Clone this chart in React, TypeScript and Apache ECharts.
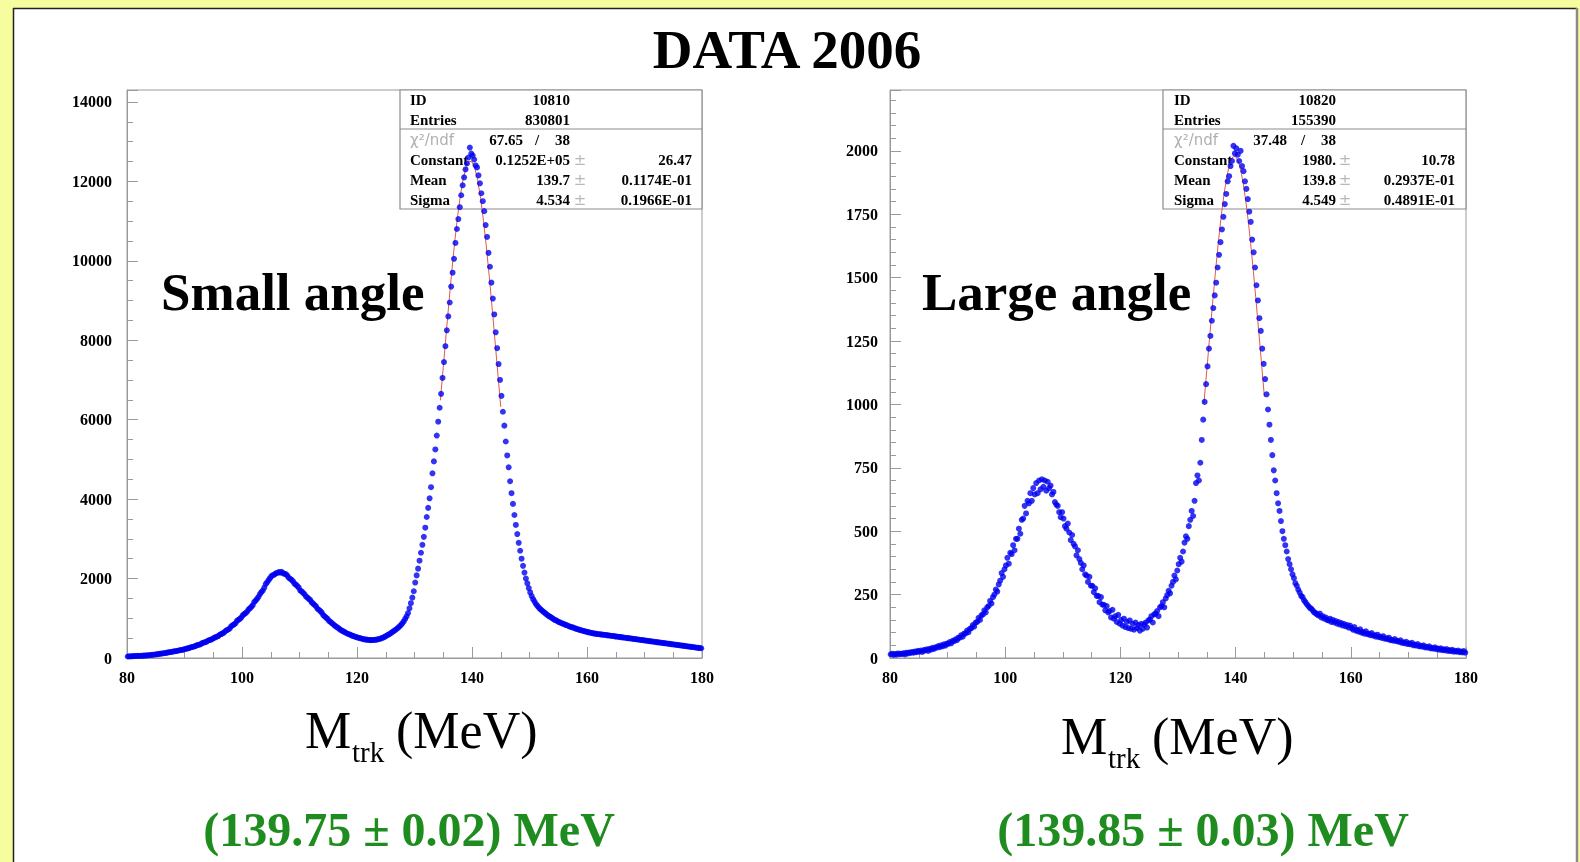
import React, { useEffect, useRef } from "react";
import * as echarts from "echarts";

// Histogram binning (MeV)
const BIN_START = 80;
const BIN_WIDTH = 0.25;

// Small angle: counts per 0.25 MeV bin, 80 -> 180 MeV (4 bins per row = 1 MeV)
const smallAngleCounts = [
  38, 42, 40, 45, 47, 50, 49, 53, 52, 56, 55, 60, 62, 64, 67, 70, 75, 79, 82, 88,
  95, 98, 104, 108, 115, 119, 125, 131, 140, 146, 150, 157, 165, 171, 176, 184, 195, 200, 207, 214,
  228, 236, 244, 255, 270, 279, 288, 300, 318, 328, 339, 352, 380, 389, 402, 414, 440, 452, 465, 480,
  508, 521, 537, 553, 585, 602, 620, 641, 680, 702, 718, 745, 800, 824, 846, 875, 935, 962, 985, 1020,
  1075, 1105, 1128, 1165, 1220, 1250, 1285, 1330, 1410, 1445, 1490, 1540, 1610, 1660, 1700, 1770, 1860, 1905, 1960, 2010,
  2060, 2085, 2100, 2130, 2140, 2165, 2150, 2170, 2135, 2120, 2110, 2075, 2020, 1995, 1965, 1930, 1870, 1845, 1810, 1770,
  1700, 1675, 1640, 1605, 1550, 1520, 1490, 1455, 1400, 1370, 1335, 1300, 1240, 1215, 1180, 1140, 1080, 1050, 1015, 985,
  935, 910, 880, 850, 815, 790, 765, 740, 710, 690, 670, 650, 630, 610, 598, 582, 565, 552, 540, 528,
  515, 505, 495, 485, 475, 468, 462, 458, 455, 450, 452, 454, 458, 462, 470, 478, 490, 505, 520, 538,
  560, 580, 600, 625, 650, 675, 700, 730, 760, 790, 830, 870, 920, 985, 1050, 1130, 1250, 1380, 1520, 1680,
  1900, 2080, 2250, 2450, 2650, 2850, 3050, 3280, 3550, 3780, 4020, 4300, 4650, 4950, 5250, 5600, 5950, 6300, 6650, 7050,
  7450, 7850, 8250, 8600, 8950, 9350, 9700, 10050, 10450, 10800, 11050, 11350, 11650, 11900, 12100, 12300, 12450, 12600, 12850, 12700,
  12650, 12550, 12400, 12350, 12150, 11950, 11700, 11500, 11250, 10900, 10600, 10200, 9850, 9450, 9050, 8650, 8200, 7800, 7400, 7000,
  6600, 6200, 5850, 5450, 5100, 4800, 4450, 4150, 3880, 3600, 3350, 3120, 2900, 2700, 2500, 2320, 2150, 2000, 1880, 1760,
  1650, 1560, 1480, 1420, 1360, 1310, 1270, 1230, 1200, 1170, 1140, 1110, 1080, 1055, 1035, 1010, 985, 960, 945, 925,
  905, 890, 875, 860, 845, 830, 818, 800, 785, 775, 765, 750, 735, 725, 712, 700, 692, 682, 672, 662,
  652, 645, 636, 628, 620, 615, 608, 602, 598, 594, 588, 585, 580, 576, 570, 566, 560, 556, 552, 545,
  540, 536, 531, 525, 520, 516, 510, 505, 500, 495, 492, 486, 480, 476, 470, 466, 460, 455, 451, 445,
  440, 436, 430, 425, 420, 416, 410, 405, 400, 394, 390, 385, 380, 375, 370, 365, 360, 355, 350, 345,
  340, 335, 330, 325, 320, 316, 310, 305, 300, 295, 290, 285, 280, 276, 270, 265, 260, 255, 250, 245,
];

// Large angle: counts per 0.25 MeV bin, 80 -> 180 MeV
const largeAngleCounts = [
  14, 17, 12, 16, 13, 18, 15, 17, 16, 19, 14, 21, 18, 22, 20, 24, 21, 26, 23, 28,
  25, 29, 24, 31, 30, 34, 28, 36, 33, 40, 36, 42, 41, 47, 43, 50, 46, 54, 49, 57,
  56, 63, 58, 68, 66, 74, 70, 80, 80, 90, 84, 96, 97, 108, 102, 115, 118, 130, 124, 140,
  142, 158, 150, 168, 172, 188, 180, 200, 205, 225, 215, 240, 250, 270, 262, 290, 305, 335, 320, 350,
  365, 395, 372, 415, 410, 445, 425, 470, 470, 510, 490, 545, 550, 600, 570, 620, 610, 650, 620, 670,
  645, 690, 650, 700, 665, 705, 675, 700, 660, 695, 670, 680, 645, 655, 615, 605, 600, 575, 555, 575,
  550, 520, 510, 530, 495, 465, 485, 450, 440, 405, 425, 390, 375, 350, 365, 330, 325, 300, 320, 285,
  285, 260, 275, 245, 245, 220, 240, 210, 210, 188, 205, 180, 185, 160, 190, 155, 165, 142, 170, 135,
  150, 128, 155, 122, 142, 118, 148, 115, 135, 112, 140, 118, 130, 108, 135, 115, 132, 140, 120, 148,
  152, 165, 140, 172, 175, 185, 165, 200, 205, 220, 200, 235, 248, 265, 255, 285, 300, 325, 310, 345,
  370, 395, 380, 420, 455, 480, 470, 520, 545, 580, 560, 620, 690, 720, 700, 770, 860, 940, 1010, 1080,
  1150, 1220, 1270, 1330, 1380, 1430, 1480, 1540, 1590, 1640, 1690, 1740, 1790, 1830, 1880, 1900, 1940, 1960, 2020, 1990,
  2010, 1985, 1960, 2000, 1940, 1920, 1880, 1850, 1810, 1760, 1720, 1650, 1600, 1540, 1470, 1410, 1340, 1290, 1220, 1160,
  1100, 1040, 980, 920, 860, 800, 740, 700, 650, 610, 580, 540, 500, 470, 445, 420, 390, 370, 350, 330,
  315, 295, 285, 270, 258, 245, 240, 228, 220, 212, 205, 198, 195, 188, 180, 178, 172, 168, 175, 160,
  165, 155, 160, 150, 148, 155, 142, 150, 140, 146, 135, 142, 132, 138, 128, 134, 125, 130, 120, 128,
  118, 112, 122, 108, 110, 104, 113, 100, 102, 96, 105, 94, 96, 90, 98, 88, 90, 84, 92, 82,
  84, 79, 86, 76, 78, 74, 80, 70, 72, 68, 75, 66, 68, 63, 70, 60, 62, 58, 64, 55,
  58, 54, 60, 50, 53, 49, 55, 46, 48, 45, 50, 42, 44, 41, 46, 38, 40, 37, 42, 35,
  37, 33, 38, 31, 34, 30, 35, 28, 31, 27, 32, 25, 28, 25, 29, 23, 26, 22, 27, 21,
];

// Gaussian fit curves (red line), read at 0.5 MeV steps
const fitMass = [134.5, 135, 135.5, 136, 136.5, 137, 137.5, 138, 138.5, 139, 139.5, 140, 140.5, 141, 141.5, 142, 142.5, 143, 143.5, 144, 144.5, 145];
const smallAngleFit = [6486, 7315, 8152, 8974, 9759, 10486, 11130, 11670, 12089, 12372, 12508, 12492, 12327, 12015, 11571, 11009, 10347, 9607, 8811, 7985, 7149, 6322];
const largeAngleFit = [1004, 1135, 1267, 1397, 1522, 1638, 1742, 1831, 1901, 1950, 1976, 1978, 1957, 1912, 1847, 1762, 1660, 1546, 1422, 1293, 1161, 1030];

// Statistics boxes
const smallStats = { id: "10810", entries: "830801", chi2: "67.65", ndf: "38", constant: ["0.1252E+05", "26.47"], mean: ["139.7", "0.1174E-01"], sigma: ["4.534", "0.1966E-01"] };
const largeStats = { id: "10820", entries: "155390", chi2: "37.48", ndf: "38", constant: ["1980.", "10.78"], mean: ["139.8", "0.2937E-01"], sigma: ["4.549", "0.4891E-01"] };

const SERIF = '"Liberation Serif", "Times New Roman", serif';
const AXIS_GRAY = "#9a9a9a";

function txt(text: string, x: number, y: number, font: string, fill = "#000", align = "left", z = 1) {
  return {
    type: "text",
    z,
    silent: true,
    style: { text, x, y, font, fill, textAlign: align, textVerticalAlign: "middle" },
  };
}

function statsBox(s: any, left: number, right: number, labelX: number, col1R: number, pmX: number, col2R: number, chiR: number, slashX: number) {
  const f = `bold 15px ${SERIF}`;
  const light = '15px "DejaVu Sans", sans-serif';
  const els: any[] = [
    { type: "rect", z: 0, silent: true, shape: { x: left, y: 90, width: right - left, height: 119 }, style: { fill: "#fff", stroke: "#8c8c8c", lineWidth: 1.2 } },
    { type: "line", z: 0, silent: true, shape: { x1: left, y1: 129, x2: right, y2: 129 }, style: { stroke: "#8c8c8c", lineWidth: 1.2 } },
    txt("ID", labelX, 100, f),
    txt(s.id, col1R, 100, f, "#000", "right"),
    txt("Entries", labelX, 120, f),
    txt(s.entries, col1R, 120, f, "#000", "right"),
    txt("χ²/ndf", labelX, 140, '15px "DejaVu Sans", sans-serif', "#b0b0b0"),
    txt(s.chi2, chiR, 140, f, "#000", "right"),
    txt("/", slashX, 140, f, "#000", "center"),
    txt(s.ndf, col1R, 140, f, "#000", "right"),
  ];
  const rows: [string, string[], number][] = [["Constant", s.constant, 160], ["Mean", s.mean, 180], ["Sigma", s.sigma, 200]];
  rows.forEach(([lab, v, y]) => {
    els.push(txt(lab, labelX, y, f));
    els.push(txt(v[0], col1R, y, f, "#000", "right"));
    els.push(txt("±", pmX, y, light, "#b8b8b8", "center"));
    els.push(txt(v[1], col2R, y, f, "#000", "right"));
  });
  return els;
}

function axisCommon(min: number, max: number, interval: number, minorSplit: number, margin: number) {
  return {
    type: "value",
    min,
    max,
    interval,
    axisLine: { show: true, lineStyle: { color: AXIS_GRAY, width: 1 } },
    axisTick: { show: true, inside: true, length: 11, lineStyle: { color: AXIS_GRAY, width: 1 } },
    minorTick: { show: true, splitNumber: minorSplit, length: 6, lineStyle: { color: AXIS_GRAY, width: 1 } },
    splitLine: { show: false },
    minorSplitLine: { show: false },
    axisLabel: {
      margin, color: "#000", fontFamily: SERIF, fontWeight: "bold", fontSize: 16, showMaxLabel: false,
      formatter: (v: number) => String(v),
    },
  };
}

function histData(counts: number[]) {
  return counts.map((c, i) => [BIN_START + BIN_WIDTH * (i + 0.5), c]);
}

export default function App() {
  const ref = useRef<HTMLDivElement>(null);
  useEffect(() => {
    if (!ref.current) return;
    const chart = echarts.init(ref.current, null, { renderer: "svg" });
    const xLeft: any = axisCommon(80, 180, 20, 4, 11);
    xLeft.gridIndex = 0;
    xLeft.axisLabel.showMaxLabel = true;
    const xRight: any = axisCommon(80, 180, 20, 4, 11);
    xRight.gridIndex = 1;
    xRight.axisLabel.showMaxLabel = true;
    const yLeft: any = axisCommon(0, 14300, 2000, 4, 15);
    yLeft.gridIndex = 0;
    const yRight: any = axisCommon(0, 2240, 250, 5, 12);
    yRight.gridIndex = 1;

    const graphic: any[] = [
      { type: "rect", z: -20, silent: true, shape: { x: 0, y: 0, width: 1580, height: 862 }, style: { fill: "#f5fd9f" } },
      { type: "rect", z: -19, silent: true, shape: { x: 13, y: 8, width: 1564, height: 900 }, style: { fill: "#ffffff" } },
      { type: "line", z: -18, silent: true, shape: { x1: 13, y1: 8.5, x2: 1577, y2: 8.5 }, style: { stroke: "#222", lineWidth: 1.5 } },
      { type: "line", z: -18, silent: true, shape: { x1: 13.5, y1: 8, x2: 13.5, y2: 862 }, style: { stroke: "#222", lineWidth: 1.5 } },
      { type: "line", z: -18, silent: true, shape: { x1: 1577, y1: 8, x2: 1577, y2: 862 }, style: { stroke: "#8a8a8a", lineWidth: 2.5 } },
      txt("DATA 2006", 787, 49, `bold 55px ${SERIF}`, "#000", "center", 5),
      txt("Small angle", 161, 292, `bold 53px ${SERIF}`, "#000", "left", 5),
      txt("Large angle", 922, 292, `bold 53px ${SERIF}`, "#000", "left", 5),
      txt("M", 305, 730, `52px ${SERIF}`, "#000", "left", 5),
      txt("trk", 352, 752, `29px ${SERIF}`, "#000", "left", 5),
      txt("(MeV)", 396, 730, `52px ${SERIF}`, "#000", "left", 5),
      txt("M", 1061, 736, `52px ${SERIF}`, "#000", "left", 5),
      txt("trk", 1108, 758, `29px ${SERIF}`, "#000", "left", 5),
      txt("(MeV)", 1152, 736, `52px ${SERIF}`, "#000", "left", 5),
      txt("(139.75 ± 0.02) MeV", 409, 829, `bold 48px ${SERIF}`, "#1e8c1e", "center", 5),
      txt("(139.85 ± 0.03) MeV", 1203, 829, `bold 48px ${SERIF}`, "#1e8c1e", "center", 5),
      ...statsBox(smallStats, 400, 702, 410, 570, 580, 692, 523, 537),
      ...statsBox(largeStats, 1163, 1466, 1174, 1336, 1345, 1455, 1287, 1303),
    ];

    chart.setOption({
      animation: false,
      backgroundColor: "transparent",
      grid: [
        { left: 127, top: 90, width: 575, height: 568, show: true, borderColor: AXIS_GRAY, borderWidth: 1, backgroundColor: "transparent" },
        { left: 890, top: 90, width: 576, height: 568, show: true, borderColor: AXIS_GRAY, borderWidth: 1, backgroundColor: "transparent" },
      ],
      xAxis: [xLeft, xRight],
      yAxis: [yLeft, yRight],
      graphic,
      series: [
        {
          type: "line", xAxisIndex: 0, yAxisIndex: 0, z: 3, silent: true, showSymbol: false,
          data: fitMass.map((m, i) => [m, smallAngleFit[i]]),
          lineStyle: { color: "#e05a4a", width: 1 },
        },
        {
          type: "scatter", xAxisIndex: 0, yAxisIndex: 0, z: 4, silent: true,
          symbol: "circle", symbolSize: 6,
          data: histData(smallAngleCounts),
          itemStyle: { color: "#0000f0" },
        },
        {
          type: "line", xAxisIndex: 1, yAxisIndex: 1, z: 3, silent: true, showSymbol: false,
          data: fitMass.map((m, i) => [m, largeAngleFit[i]]),
          lineStyle: { color: "#e05a4a", width: 1 },
        },
        {
          type: "scatter", xAxisIndex: 1, yAxisIndex: 1, z: 4, silent: true,
          symbol: "circle", symbolSize: 6,
          data: histData(largeAngleCounts),
          itemStyle: { color: "#0000f0" },
        },
      ],
    });
    return () => chart.dispose();
  }, []);
  return <div ref={ref} style={{ position: "fixed", left: 0, top: 0, width: 1580, height: 862 }} />;
}
